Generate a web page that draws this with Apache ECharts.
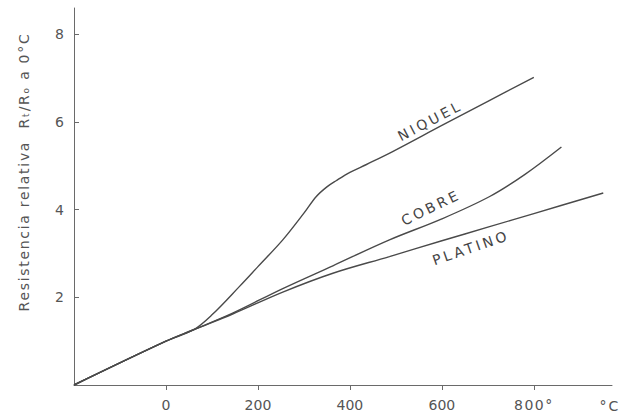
<!DOCTYPE html>
<html>
<head>
<meta charset="utf-8">
<script src="https://cdn.jsdelivr.net/npm/echarts@6/dist/echarts.min.js"></script>
<style>
html,body{margin:0;padding:0;background:#fff;}
#c{width:623px;height:415px;}
</style>
</head>
<body>
<div id="c"></div>
<script>
// Temperatures (°C) and relative resistance Rt/R0
var niquelX = [-200, 0, 60, 100, 160, 200, 254, 300, 327, 350, 370, 400, 436, 494, 600, 700, 800];
var niquelY = [0, 1.0, 1.26, 1.6, 2.25, 2.7, 3.31, 3.92, 4.30, 4.52, 4.66, 4.85, 5.03, 5.33, 5.92, 6.47, 7.02];

var cobreX = [-200, 0, 60, 145, 254, 363, 486, 600, 704, 780, 860];
var cobreY = [0, 1.0, 1.26, 1.64, 2.2, 2.72, 3.31, 3.79, 4.30, 4.80, 5.43];

var platinoX = [-200, 0, 60, 145, 254, 363, 486, 600, 700, 800, 951];
var platinoY = [0, 1.0, 1.26, 1.62, 2.12, 2.55, 2.93, 3.29, 3.60, 3.91, 4.38];

var xTicks = [0, 200, 400, 600, 800];
var yTicks = [2, 4, 6, 8];

var seriesNames = ['NIQUEL', 'COBRE', 'PLATINO'];
// label anchor positions in data coordinates and rotation (deg)
var labelX = [574, 576, 663];
var labelY = [6.03, 4.05, 3.13];
var labelRot = [27.5, 26, 19];

var yName = 'Resistencia relativa  Rₜ/Rₒ a 0°C';
var xUnit = '°C';

function pairs(xs, ys) { return xs.map(function (x, i) { return [x, ys[i]]; }); }

var lineColor = '#4a4a4a';
var chart = echarts.init(document.getElementById('c'), null, { renderer: 'svg' });

var option = {
  backgroundColor: '#ffffff',
  animation: false,
  grid: { left: 74, right: 11, top: 8, bottom: 30, containLabel: false },
  xAxis: {
    type: 'value', min: -200, max: 970, interval: 200,
    axisLine: { show: true, onZero: false, lineStyle: { color: '#6a6a6a', width: 1 } },
    axisTick: { show: true, length: 5, customValues: xTicks, lineStyle: { color: '#6a6a6a' } },
    axisLabel: {
      customValues: xTicks, color: '#555', fontFamily: 'DejaVu Sans', fontSize: 14, margin: 13,
      formatter: function (v) { return v === 800 ? '800°' : String(v); }
    },
    splitLine: { show: false }
  },
  yAxis: {
    type: 'value', min: 0, max: 8.6, interval: 2,
    axisLine: { show: true, onZero: false, lineStyle: { color: '#6a6a6a', width: 1 } },
    axisTick: { show: true, inside: true, length: 5, customValues: yTicks, lineStyle: { color: '#6a6a6a' } },
    axisLabel: { customValues: yTicks, color: '#555', fontFamily: 'DejaVu Sans', fontSize: 14, margin: 10 },
    splitLine: { show: false }
  },
  series: [
    { name: seriesNames[0], type: 'line', data: pairs(niquelX, niquelY) },
    { name: seriesNames[1], type: 'line', data: pairs(cobreX, cobreY) },
    { name: seriesNames[2], type: 'line', data: pairs(platinoX, platinoY) }
  ].map(function (s) {
    s.smooth = 0.35; s.showSymbol = false; s.symbol = 'none';
    s.lineStyle = { color: lineColor, width: 1.4 };
    s.z = 3;
    return s;
  })
};
chart.setOption(option);

var graphics = [
  {
    type: 'text', x: 23.5, y: 172, rotation: Math.PI / 2,
    style: { text: yName, fill: '#555', font: '14px "DejaVu Sans"', align: 'center', verticalAlign: 'middle' }
  },
  {
    type: 'text', x: 610, y: 406,
    style: { text: xUnit, fill: '#555', font: '14px "DejaVu Sans"', align: 'center', verticalAlign: 'middle' }
  }
];
seriesNames.forEach(function (n, i) {
  var p = chart.convertToPixel({ gridIndex: 0 }, [labelX[i], labelY[i]]);
  graphics.push({
    type: 'text', x: p[0], y: p[1], rotation: labelRot[i] * Math.PI / 180,
    style: { text: n, fill: '#444', font: '14px "DejaVu Sans"', align: 'center', verticalAlign: 'middle' }
  });
});
chart.setOption({ graphic: graphics });

// hand-lettered look: widen letter spacing of the annotation texts
function spaceLetters() {
  var texts = document.querySelectorAll('#c svg text');
  texts.forEach(function (t) {
    var s = t.textContent;
    if (s === yName) t.style.letterSpacing = '1.7px';
    else if (seriesNames.indexOf(s) >= 0) t.style.letterSpacing = '3px';
    else if (s === '800°') t.style.letterSpacing = '1.5px';
    else if (s === xUnit) t.style.letterSpacing = '2px';
  });
}
spaceLetters();
chart.on('finished', spaceLetters);
</script>
</body>
</html>
